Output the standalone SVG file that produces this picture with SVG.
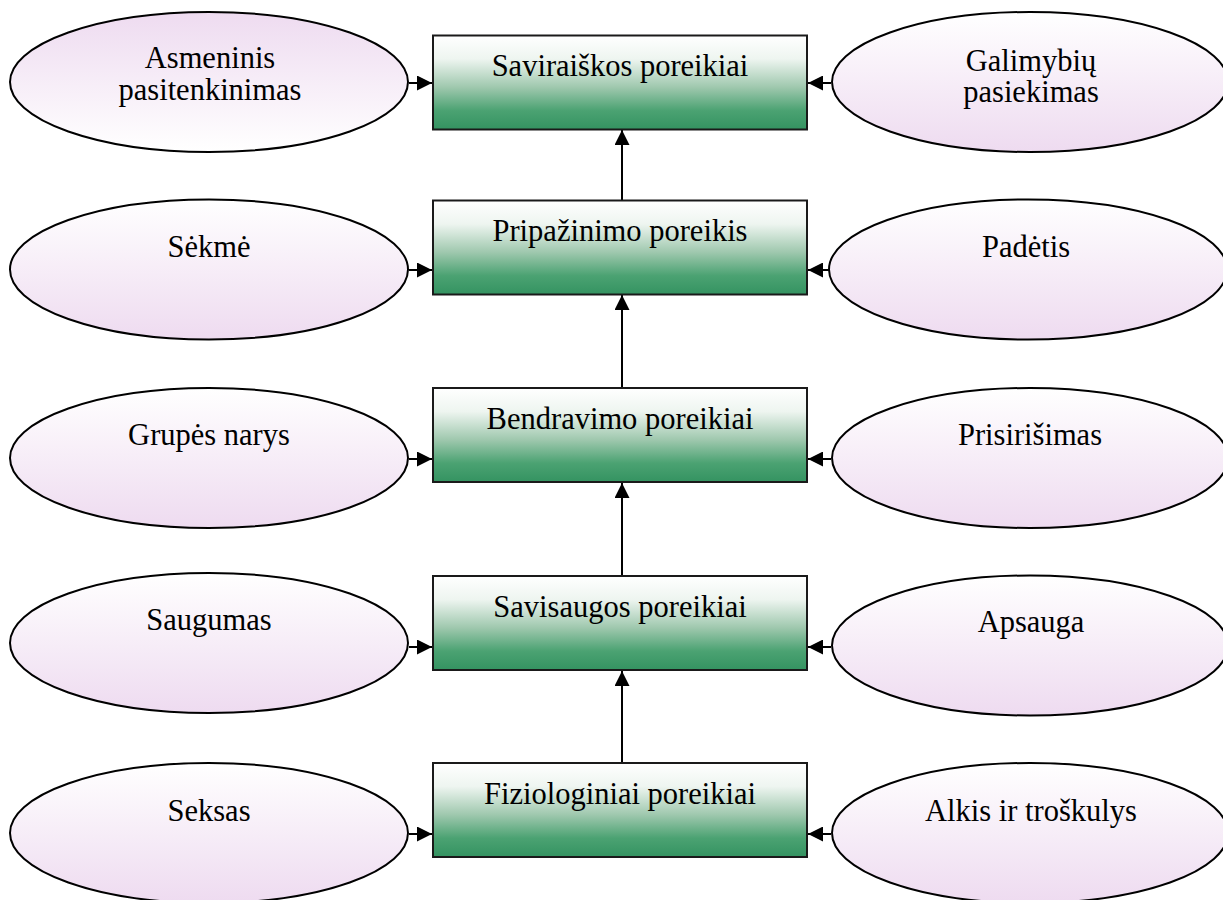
<svg xmlns="http://www.w3.org/2000/svg" width="1223" height="900" viewBox="0 0 1223 900">
<style>
.box{stroke:#1a1a1a;stroke-width:2;fill:url(#gBox)}
.ell{stroke:#000;stroke-width:2}
.t{font-family:'Liberation Serif',Tinos,'Times New Roman',Times,'DejaVu Serif',serif;font-size:30.5px;fill:#000;text-anchor:middle}
.c{stroke:#000;stroke-width:2;fill:none;marker-end:url(#ah)}
</style>
<defs>
<linearGradient id="gBox" x1="0" y1="0" x2="0" y2="1">
<stop offset="0" stop-color="#ffffff"/>
<stop offset="0.25" stop-color="#eef5f0"/>
<stop offset="0.55" stop-color="#9fc8ae"/>
<stop offset="0.8" stop-color="#4ba272"/>
<stop offset="1" stop-color="#349361"/>
</linearGradient>
<linearGradient id="gEllDown" x1="0" y1="0" x2="0" y2="1">
<stop offset="0" stop-color="#ffffff"/>
<stop offset="1" stop-color="#eedbf0"/>
</linearGradient>
<linearGradient id="gEllUp" x1="0" y1="0" x2="0" y2="1">
<stop offset="0" stop-color="#eedbf0"/>
<stop offset="1" stop-color="#ffffff"/>
</linearGradient>
<marker id="ah" viewBox="0 0 15 15" markerWidth="15" markerHeight="15" refX="15" refY="7.5" orient="auto" markerUnits="userSpaceOnUse">
<path d="M0,0 L15,7.5 L0,15 Z" fill="#000"/>
</marker>
</defs>

<g id="connectors">
<path class="c" d="M409,83 H432"/>
<path class="c" d="M831,83 H808"/>
<path class="c" d="M409,270 H432"/>
<path class="c" d="M829,270 H808"/>
<path class="c" d="M409,459 H432"/>
<path class="c" d="M831,459 H808"/>
<path class="c" d="M409,647 H432"/>
<path class="c" d="M831,647 H808"/>
<path class="c" d="M409,834 H432"/>
<path class="c" d="M831,834 H808"/>
<path class="c" d="M622,200 V130"/>
<path class="c" d="M622,388 V295"/>
<path class="c" d="M622,576 V483"/>
<path class="c" d="M622,763 V671"/>
</g>

<g font-family="Liberation Serif, serif">
<g id="box1"><rect class="box" x="433" y="35.5" width="374" height="94"/><text class="t" x="620" y="76">Saviraiškos poreikiai</text></g>
<g id="box2"><rect class="box" x="433" y="200.5" width="374" height="94"/><text class="t" x="620" y="241">Pripažinimo poreikis</text></g>
<g id="box3"><rect class="box" x="433" y="388" width="374" height="94"/><text class="t" x="620" y="429">Bendravimo poreikiai</text></g>
<g id="box4"><rect class="box" x="433" y="576" width="374" height="94"/><text class="t" x="620" y="617">Savisaugos poreikiai</text></g>
<g id="box5"><rect class="box" x="433" y="763" width="374" height="94"/><text class="t" x="620" y="804">Fiziologiniai poreikiai</text></g>

<g id="l1"><ellipse class="ell" fill="url(#gEllUp)" cx="209" cy="82" rx="199" ry="70"/><text class="t" x="210" y="68">Asmeninis</text><text class="t" x="210" y="100">pasitenkinimas</text></g>
<g id="r1"><ellipse class="ell" fill="url(#gEllDown)" cx="1030" cy="82" rx="198" ry="70"/><text class="t" x="1031" y="71">Galimybių</text><text class="t" x="1031" y="102">pasiekimas</text></g>
<g id="l2"><ellipse class="ell" fill="url(#gEllDown)" cx="209" cy="269.5" rx="199" ry="70"/><text class="t" x="209" y="257">Sėkmė</text></g>
<g id="r2"><ellipse class="ell" fill="url(#gEllDown)" cx="1028" cy="269.5" rx="199" ry="70"/><text class="t" x="1026" y="257">Padėtis</text></g>
<g id="l3"><ellipse class="ell" fill="url(#gEllDown)" cx="209" cy="458" rx="199" ry="70"/><text class="t" x="209" y="445">Grupės narys</text></g>
<g id="r3"><ellipse class="ell" fill="url(#gEllDown)" cx="1030" cy="458" rx="198" ry="70"/><text class="t" x="1030" y="445">Prisirišimas</text></g>
<g id="l4"><ellipse class="ell" fill="url(#gEllDown)" cx="209" cy="643" rx="199" ry="70"/><text class="t" x="209" y="630">Saugumas</text></g>
<g id="r4"><ellipse class="ell" fill="url(#gEllDown)" cx="1030" cy="645.5" rx="198" ry="70"/><text class="t" x="1031" y="632">Apsauga</text></g>
<g id="l5"><ellipse class="ell" fill="url(#gEllDown)" cx="209" cy="833" rx="199" ry="70"/><text class="t" x="209" y="821">Seksas</text></g>
<g id="r5"><ellipse class="ell" fill="url(#gEllDown)" cx="1030" cy="833" rx="198" ry="70"/><text class="t" x="1031" y="821">Alkis ir troškulys</text></g>
</g>
</svg>
